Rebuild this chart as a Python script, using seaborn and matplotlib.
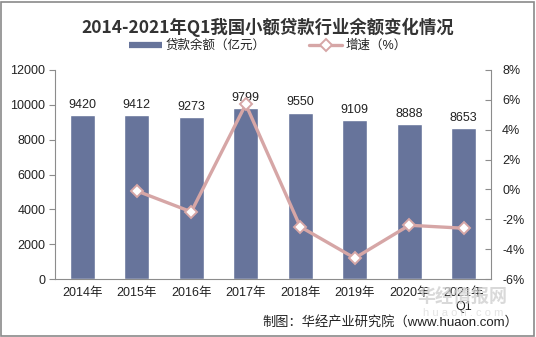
import numpy as np
import pandas as pd
import matplotlib
matplotlib.use("Agg")
import matplotlib.pyplot as plt
from matplotlib.lines import Line2D
from matplotlib.patches import Rectangle
import seaborn as sns

categories = ["2014年", "2015年", "2016年", "2017年", "2018年", "2019年", "2020年", "2021年\nQ1"]
balance = [9420, 9412, 9273, 9799, 9550, 9109, 8888, 8653]
growth = [np.nan, -0.1, -1.5, 5.7, -2.5, -4.6, -2.4, -2.6]
left_ticks = [0, 2000, 4000, 6000, 8000, 10000, 12000]
right_ticks = [-6, -4, -2, 0, 2, 4, 6, 8]

sns.set_theme(style="white")
FONTS = ["Liberation Sans", "Noto Sans CJK SC", "DejaVu Sans"]
plt.rcParams["font.family"] = FONTS

bar_color = "#67749B"
line_color = "#D6A6A6"
axis_color = "#8C8C8C"
text_color = "#222222"

df = pd.DataFrame({"cat": categories, "balance": balance, "growth": growth})
df["pos"] = np.arange(len(categories))

fig = plt.figure(figsize=(5.36, 3.37), dpi=100)
ax = fig.add_axes([55/536, 1-279/337, (491-55)/536, (279-70)/337])

sns.barplot(data=df, x="cat", y="balance", color=bar_color, width=0.46,
            saturation=1, ax=ax)
ax.set_xlim(-0.5, len(categories)-0.5)
ax.set_ylim(0, 12000)
ax.set_yticks(left_ticks)
ax.set_yticklabels([str(t) for t in left_ticks], fontsize=9, color=text_color)
ax.set_xlabel("")
ax.set_ylabel("")
ax.set_xticks(np.arange(len(categories)))
ax.set_xticklabels(categories, fontsize=9, color=text_color)
ax.tick_params(axis="x", length=0, pad=6)
# boundary ticks
ax.set_xticks(np.arange(-0.5, len(categories)+0.5, 1), minor=True)
ax.tick_params(axis="x", which="minor", length=4, color=axis_color, width=0.8, direction="out")
ax.tick_params(axis="y", length=4, color=axis_color, width=0.8, direction="out", pad=3, left=True)
for s in ["top", "right"]:
    ax.spines[s].set_visible(False)
for s in ["left", "bottom"]:
    ax.spines[s].set_color(axis_color)
    ax.spines[s].set_linewidth(0.8)

for i, v in enumerate(balance):
    ax.text(i, v + 250, str(v), ha="center", va="bottom", fontsize=9, color=text_color)

ax2 = ax.twinx()
sns.lineplot(data=df, x="pos", y="growth", color=line_color, linewidth=2.4,
             marker="D", markersize=6, markerfacecolor="white",
             markeredgecolor=line_color, markeredgewidth=1.4, ax=ax2)
ax2.set_ylim(-6, 8)
ax2.set_yticks(right_ticks)
ax2.set_yticklabels([f"{t}%" for t in right_ticks], fontsize=9, color=text_color)
ax2.set_xlim(-0.5, len(categories)-0.5)
ax2.set_xlabel("")
ax2.set_ylabel("")
ax2.tick_params(axis="y", length=4, color=axis_color, width=0.8, direction="in", pad=8, right=True)
for s in ["top", "left", "bottom"]:
    ax2.spines[s].set_visible(False)
ax2.spines["right"].set_color(axis_color)
ax2.spines["right"].set_linewidth(0.8)

fig.text(0.5, 1-27/337, "2014-2021年Q1我国小额贷款行业余额变化情况", ha="center", va="center",
         fontsize=12.5, fontweight="bold", color="#333333", family=["Noto Sans CJK SC", "DejaVu Sans"])

handles = [Line2D([], [], color=bar_color, lw=4.5, solid_capstyle="butt"),
           Line2D([], [], color=line_color, lw=2.4, marker="D", markersize=6,
                  markerfacecolor="white", markeredgecolor=line_color, markeredgewidth=1.4)]
leg = fig.legend(handles, ["贷款余额（亿元）", "增速（%）"], loc="center",
                 bbox_to_anchor=(0.5, 1-46/337), ncol=2, frameon=False, fontsize=9,
                 handlelength=2.6, columnspacing=3.5, handletextpad=0.3)
for t in leg.get_texts():
    t.set_color(text_color)

# watermark
fig.text(463/536, 1-297/337, "华经情报网", ha="center", va="center", fontsize=13,
         fontweight="bold", color="#D0D0D0", alpha=0.8, family=["Noto Sans CJK SC"])
fig.text(463/536, 1-313/337, "h u a o n . c o m", ha="center", va="center", fontsize=8,
         color="#DDDDDD", alpha=0.8)

fig.text(518/536, 1-322/337, "制图：华经产业研究院（www.huaon.com）", ha="right", va="center",
         fontsize=9.5, color=text_color)

fig.patches.append(Rectangle((1/536, 1/337), 1-3/536, 1-3/337, transform=fig.transFigure,
                             fill=False, edgecolor="#8A8A8A", linewidth=1.2))

fig.savefig("out.png", dpi=100, facecolor="white")
